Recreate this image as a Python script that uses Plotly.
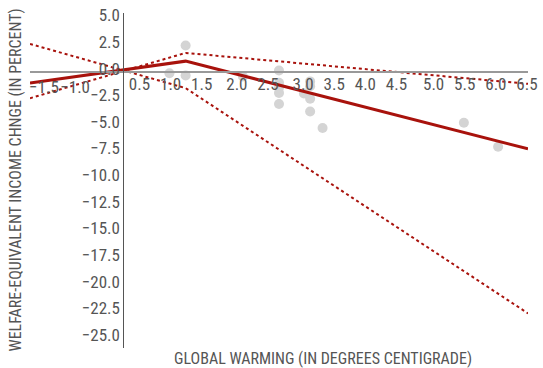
import plotly.graph_objects as go

# ---- data ----
study_warming = [1.0, 0.74, 1.0, 1.92, 2.5, 2.5, 2.5, 2.5, 2.5, 2.9, 3.0, 3.0, 3.0, 3.0, 3.2, 5.47, 6.02]
study_impact = [2.45, -0.15, -0.37, -0.46, 0.1, -1.05, -1.5, -2.0, -3.05, -2.05, -0.92, -1.38, -2.55, -3.75, -5.3, -4.8, -7.05]

fit_x = [-1.5, 1.0, 6.5]
fit_central = [-1.07, 0.98, -7.25]
fit_upper = [-2.5, 1.75, -1.15]
fit_lower = [2.6, -1.55, -22.7]

x_tickvals = [-1.5, -1.0, 0.5, 1.0, 1.5, 2.0, 2.5, 3.0, 3.5, 4.0, 4.5, 5.0, 5.5, 6.0, 6.5]
y_tickvals = [5.0, 2.5, 0.0, -2.5, -5.0, -7.5, -10.0, -12.5, -15.0, -17.5, -20.0, -22.5, -25.0]

x_range = [-1.5, 6.5]
y_range = [-25.95, 5.5]

RED = "#a8120c"
FONT = "Roboto Condensed, Liberation Sans Narrow, Arial Narrow, DejaVu Sans Condensed, sans-serif"
TXT = "#555555"

fig = go.Figure()
fig.add_trace(go.Scatter(x=study_warming, y=study_impact, mode="markers",
                         marker=dict(size=10, color="#d4d4d4"), showlegend=False))
fig.add_trace(go.Scatter(x=fit_x, y=fit_upper, mode="lines",
                         line=dict(color=RED, width=2, dash="dot"), showlegend=False))
fig.add_trace(go.Scatter(x=fit_x, y=fit_lower, mode="lines",
                         line=dict(color=RED, width=2, dash="dot"), showlegend=False))
fig.add_trace(go.Scatter(x=fit_x, y=fit_central, mode="lines",
                         line=dict(color=RED, width=3), showlegend=False))

x_pos = (0 - y_range[0]) / (y_range[1] - y_range[0])
y_pos = (0 - x_range[0]) / (x_range[1] - x_range[0])

# the source chart's tick labels drift slightly from their ticks; emulate with label shifts
def label_shift(v):
    if v < 0:
        return 14
    if v <= 1.5:
        return -15
    if v <= 2.5:
        return -11
    if v <= 4.5:
        return -7
    return -1

groups = {}
for v in x_tickvals:
    groups.setdefault(label_shift(v), []).append(v)

base_x = dict(range=x_range, anchor="free", position=x_pos, tickformat=".1f", tickangle=0,
              showgrid=False, zeroline=False, ticks="", ticklabeloverflow="allow",
              tickfont=dict(family=FONT, size=17, color=TXT))

layout_axes = {}
for i, (shift, vals) in enumerate(groups.items()):
    name = "xaxis" if i == 0 else f"xaxis{i + 1}"
    ax = dict(base_x, tickvals=vals, ticklabelshift=shift)
    if i == 0:
        ax.update(showline=True, linecolor="#999999", linewidth=1.5)
    else:
        ax.update(showline=False, overlaying="x")
        # empty carrier trace so the label-only overlay axis is drawn
        fig.add_trace(go.Scatter(x=[], y=[], xaxis=f"x{i + 1}", yaxis="y",
                                 mode="markers", showlegend=False, hoverinfo="skip"))
    layout_axes[name] = ax

fig.update_layout(
    width=543, height=368,
    margin=dict(l=30, r=11, t=5, b=20),
    paper_bgcolor="white", plot_bgcolor="white",
    font=dict(family=FONT, size=16, color=TXT),
    yaxis=dict(range=y_range, anchor="free", position=y_pos,
               tickvals=y_tickvals, tickformat=".1f",
               showgrid=False, zeroline=False, showline=True,
               linecolor="#555555", linewidth=1, ticks="",
               ticklabelshift=-3, ticklabeloverflow="allow",
               tickfont=dict(family=FONT, size=17, color=TXT)),
    annotations=[
        dict(text="WELFARE-EQUIVALENT INCOME CHNGE (IN PERCENT)", xref="paper", yref="paper",
             x=-0.03, y=0.5, xanchor="center", yanchor="middle", textangle=-90,
             showarrow=False, font=dict(family=FONT, size=16, color=TXT)),
        dict(text="GLOBAL WARMING (IN DEGREES CENTIGRADE)", xref="paper", yref="paper",
             x=(325 - 30) / 502, y=(348 - 359) / 343, xanchor="center", yanchor="middle",
             showarrow=False, font=dict(family=FONT, size=16, color=TXT)),
    ],
    **layout_axes,
)

fig.write_html("out.html", config={"displayModeBar": False},
               post_script="document.body.style.margin='0';")
